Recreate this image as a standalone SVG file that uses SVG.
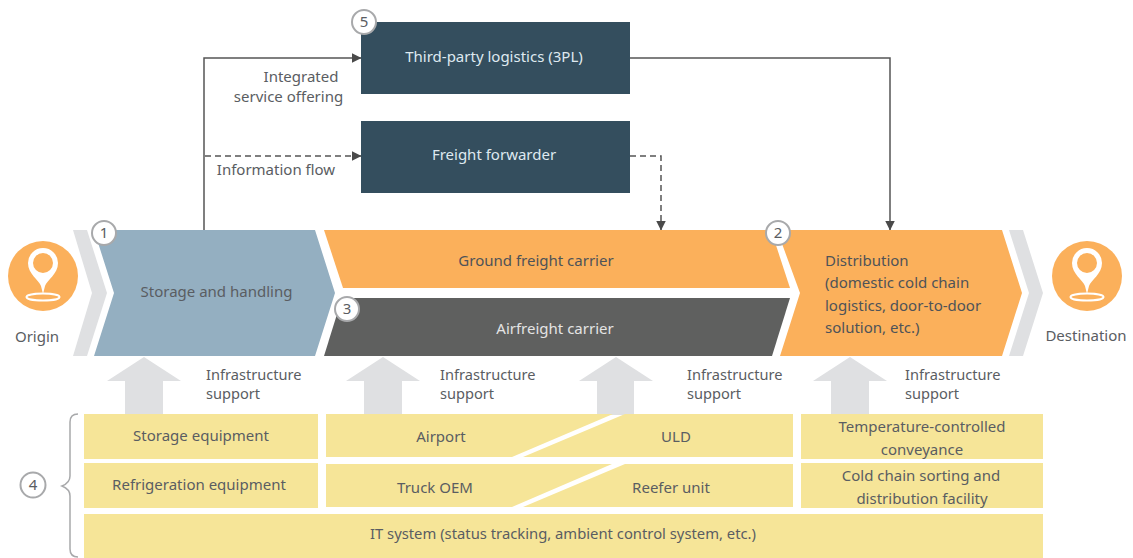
<svg xmlns="http://www.w3.org/2000/svg" width="1133" height="558" viewBox="0 0 1133 558">
<style>
text{font-family:"Noto Sans","Open Sans","Liberation Sans",sans-serif;font-size:15px;fill:#5a5d62}
.m{text-anchor:middle}
.s{font-size:14.6px}
.w{fill:#dfe9f0}
.d{fill:#4e5358}
.grey{fill:#dfe0e2}
.yel{fill:#f6e598}
.org{fill:#fbb05b}
.navy{fill:#344e5e}
.con{fill:none;stroke:#555;stroke-width:1.5}
.dash{stroke-dasharray:6 4}
.badge{fill:#fff;stroke:#a8a9ab;stroke-width:2}
.pin{fill:none;stroke:#fff;stroke-width:2}
</style>
<defs>
<marker id="arr" viewBox="0 0 10 10" refX="9.5" refY="5" markerWidth="10" markerHeight="10" markerUnits="userSpaceOnUse" orient="auto"><path d="M0 0L10 5L0 10Z" fill="#4a4a4a"/></marker>
<g id="pinIcon"><path fill="#fff" fill-rule="evenodd" d="M-2 10C-4 4-15-2-15-13A15 15 0 1 1 15-13C15-2 4 4 2 10L0 18ZM10-13A10 10 0 1 0-10-13A10 10 0 1 0 10-13Z"/><ellipse class="pin" cx="0" cy="21" rx="16.500" ry="3.600"/></g>
</defs>
<g id="origin"><circle class="org" cx="43" cy="276" r="35"/><use href="#pinIcon" x="43" y="276"/><text class="m" x="37" y="342">Origin</text></g>
<g id="destination"><circle class="org" cx="1087" cy="276" r="35"/><use href="#pinIcon" x="1087" y="276"/><text class="m" x="1086" y="341">Destination</text></g>
<g id="chevrons"><path class="grey" d="M73 230H87L107 293L87 356H73L92 293Z"/><path class="grey" d="M1009 230H1023L1043 293L1023 356H1009L1029 293Z"/></g>
<g id="infrastructure-arrows">
<path class="grey" d="M144 357L181 381H163V415H125V381H107Z"/>
<path class="grey" d="M383 357L420 381H402V415H364V381H346Z"/>
<path class="grey" d="M616 357L653 381H634V415H597V381H579Z"/>
<path class="grey" d="M850 357L887 381H869V415H831V381H813Z"/>
</g>
<g id="connectors">
<path class="con" d="M204 230V58H361" marker-end="url(#arr)"/>
<path class="con" d="M630 58H890V230" marker-end="url(#arr)"/>
<path class="con dash" d="M205 156H361" marker-end="url(#arr)"/>
<path class="con dash" d="M630 156H661V230" marker-end="url(#arr)"/>
</g>
<g id="node-3pl"><rect class="navy" x="361" y="22" width="269" height="72"/><text class="m w" x="494" y="62">Third-party logistics (3PL)</text></g>
<g id="node-forwarder"><rect class="navy" x="361" y="121" width="269" height="72"/><text class="m w" x="494" y="160">Freight forwarder</text></g>
<g id="node-storage"><path fill="#94afc1" d="M94 230H315L335 293L315 356H94L114 293Z"/><text class="m" x="216.500" y="297">Storage and handling</text></g>
<g id="node-ground"><path class="org" d="M324 230H771L790 288H343Z"/><text class="m d" x="536" y="266">Ground freight carrier</text></g>
<g id="node-air"><path fill="#5f605f" d="M342 298H790L772 356H324Z"/><text class="m" style="fill:#e4e4e4" x="555" y="334">Airfreight carrier</text></g>
<g id="node-distribution"><path class="org" d="M777 230H1002L1022 293L1002 356H780L800 293Z"/><text class="d" x="825" y="266">Distribution</text><text class="d" x="825" y="288">(domestic cold chain</text><text class="d" x="825" y="311">logistics, door-to-door</text><text class="d" x="825" y="333">solution, etc.)</text></g>
<g id="labels">
<text class="m" x="301" y="82">Integrated</text><text class="m" x="288.500" y="102">service offering</text>
<text class="m" x="276" y="175">Information flow</text>
<text class="s" x="206" y="380">Infrastructure</text><text class="s" x="206" y="399">support</text>
<text class="s" x="440" y="380">Infrastructure</text><text class="s" x="440" y="399">support</text>
<text class="s" x="687" y="380">Infrastructure</text><text class="s" x="687" y="399">support</text>
<text class="s" x="905" y="380">Infrastructure</text><text class="s" x="905" y="399">support</text>
</g>
<g id="node-storage-equipment"><rect class="yel" x="84" y="414" width="234" height="45"/><text class="m" x="201" y="441">Storage equipment</text></g>
<g id="node-refrigeration"><rect class="yel" x="84" y="463" width="234" height="45"/><text class="m" x="199" y="490">Refrigeration equipment</text></g>
<g id="node-airport"><path class="yel" d="M326 414H613L512 457H326Z"/><text class="m" x="441" y="442">Airport</text></g>
<g id="node-uld"><path class="yel" d="M625 414H793V457H523Z"/><text class="m" x="676" y="442">ULD</text></g>
<g id="node-truck"><path class="yel" d="M326 464H612L512 507H326Z"/><text class="m" x="435" y="493">Truck OEM</text></g>
<g id="node-reefer"><path class="yel" d="M625 464H793V507H523Z"/><text class="m" x="671" y="493">Reefer unit</text></g>
<g id="node-conveyance"><rect class="yel" x="801" y="414" width="242" height="45"/><text class="m" x="922" y="432">Temperature-controlled</text><text class="m" x="922" y="455">conveyance</text></g>
<g id="node-sorting"><rect class="yel" x="801" y="463" width="242" height="45"/><text class="m" x="921" y="481">Cold chain sorting and</text><text class="m" x="922" y="504">distribution facility</text></g>
<g id="node-it"><rect class="yel" x="84" y="514" width="959" height="44"/><text class="m" style="font-size:14.800px" x="563" y="539">IT system (status tracking, ambient control system, etc.)</text></g>
<g id="bracket"><path fill="none" stroke="#a8a9ab" stroke-width="1.5" d="M78 414C73 414 70 417 70 422V476C70 481 67 484 62 486C67 488 70 491 70 496V549C70 554 73 557 78 557"/></g>
<g id="badges">
<g id="badge-1"><circle class="badge" cx="104" cy="233" r="12"/><text class="m" x="104" y="238">1</text></g>
<g id="badge-2"><circle class="badge" cx="778" cy="233" r="12"/><text class="m" x="778" y="238">2</text></g>
<g id="badge-3"><circle class="badge" cx="347" cy="309" r="12"/><text class="m" x="347" y="314">3</text></g>
<g id="badge-4"><circle class="badge" cx="33" cy="485" r="12.500"/><text class="m" x="33" y="490">4</text></g>
<g id="badge-5"><circle class="badge" cx="364" cy="22" r="12"/><text class="m" x="364" y="27">5</text></g>
</g>
</svg>
